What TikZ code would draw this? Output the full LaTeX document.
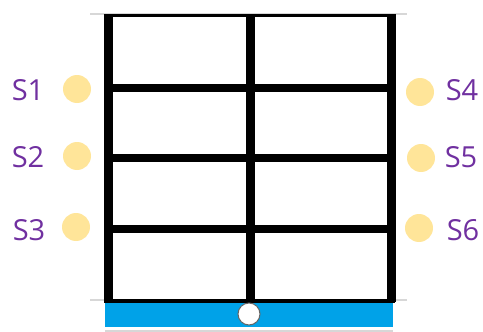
\documentclass[tikz,border=0pt]{standalone}
\usepackage{fontspec}
\setmainfont{Open Sans}
\definecolor{lblpurple}{RGB}{112,48,160}
\definecolor{dotyellow}{RGB}{255,229,153}
\definecolor{barblue}{RGB}{0,162,232}
\definecolor{guidegray}{RGB}{215,215,215}
\begin{document}
\begin{tikzpicture}[x=1pt,y=-1pt,
  lbl/.style={text=lblpurple,font=\fontsize{29}{29}\selectfont,inner sep=0pt},
  dot/.style={circle,fill=dotyellow,minimum size=28pt,inner sep=0pt},
  beam/.style={line width=8pt,line cap=butt},
  post/.style={line width=9pt,line cap=butt},
  guide/.style={draw=guidegray,line width=1.5pt}]
\useasboundingbox (0,0) rectangle (483,332);
% guide lines
\draw[guide] (90,14) -- (407,14);
\draw[guide] (90,300) -- (407,300);
\draw[guide] (105,331) -- (393,331);
% blue bar
\fill[barblue] (105,302.5) rectangle (393,327);
% top and bottom lines
\draw[line width=2.5pt] (104,15.5) -- (395,15.5);
\draw[line width=3.5pt] (104,300.8) -- (395,300.8);
% horizontal beams
\foreach \yy in {88,158,229} \draw[beam] (108,\yy) -- (391,\yy);
% vertical posts
\foreach \xx in {108,250.5,391} \draw[post] (\xx,14) -- (\xx,302);
% pivot
\node[circle,draw=gray!80!black,fill=white,line width=1pt,minimum size=22pt,inner sep=0pt] (pivot) at (249,314) {};
% dots
\node[dot] (d1) at (77,89) {};
\node[dot] (d2) at (77,156) {};
\node[dot] (d3) at (76,227) {};
\node[dot] (d4) at (420,92) {};
\node[dot] (d5) at (421,158) {};
\node[dot] (d6) at (419,228) {};
% labels
\node[lbl] (s1) at (28,90) {S1};
\node[lbl] (s2) at (28,157) {S2};
\node[lbl] (s3) at (29,230) {S3};
\node[lbl] (s4) at (462,90) {S4};
\node[lbl] (s5) at (461,157) {S5};
\node[lbl] (s6) at (463,230) {S6};
\end{tikzpicture}
\end{document}
